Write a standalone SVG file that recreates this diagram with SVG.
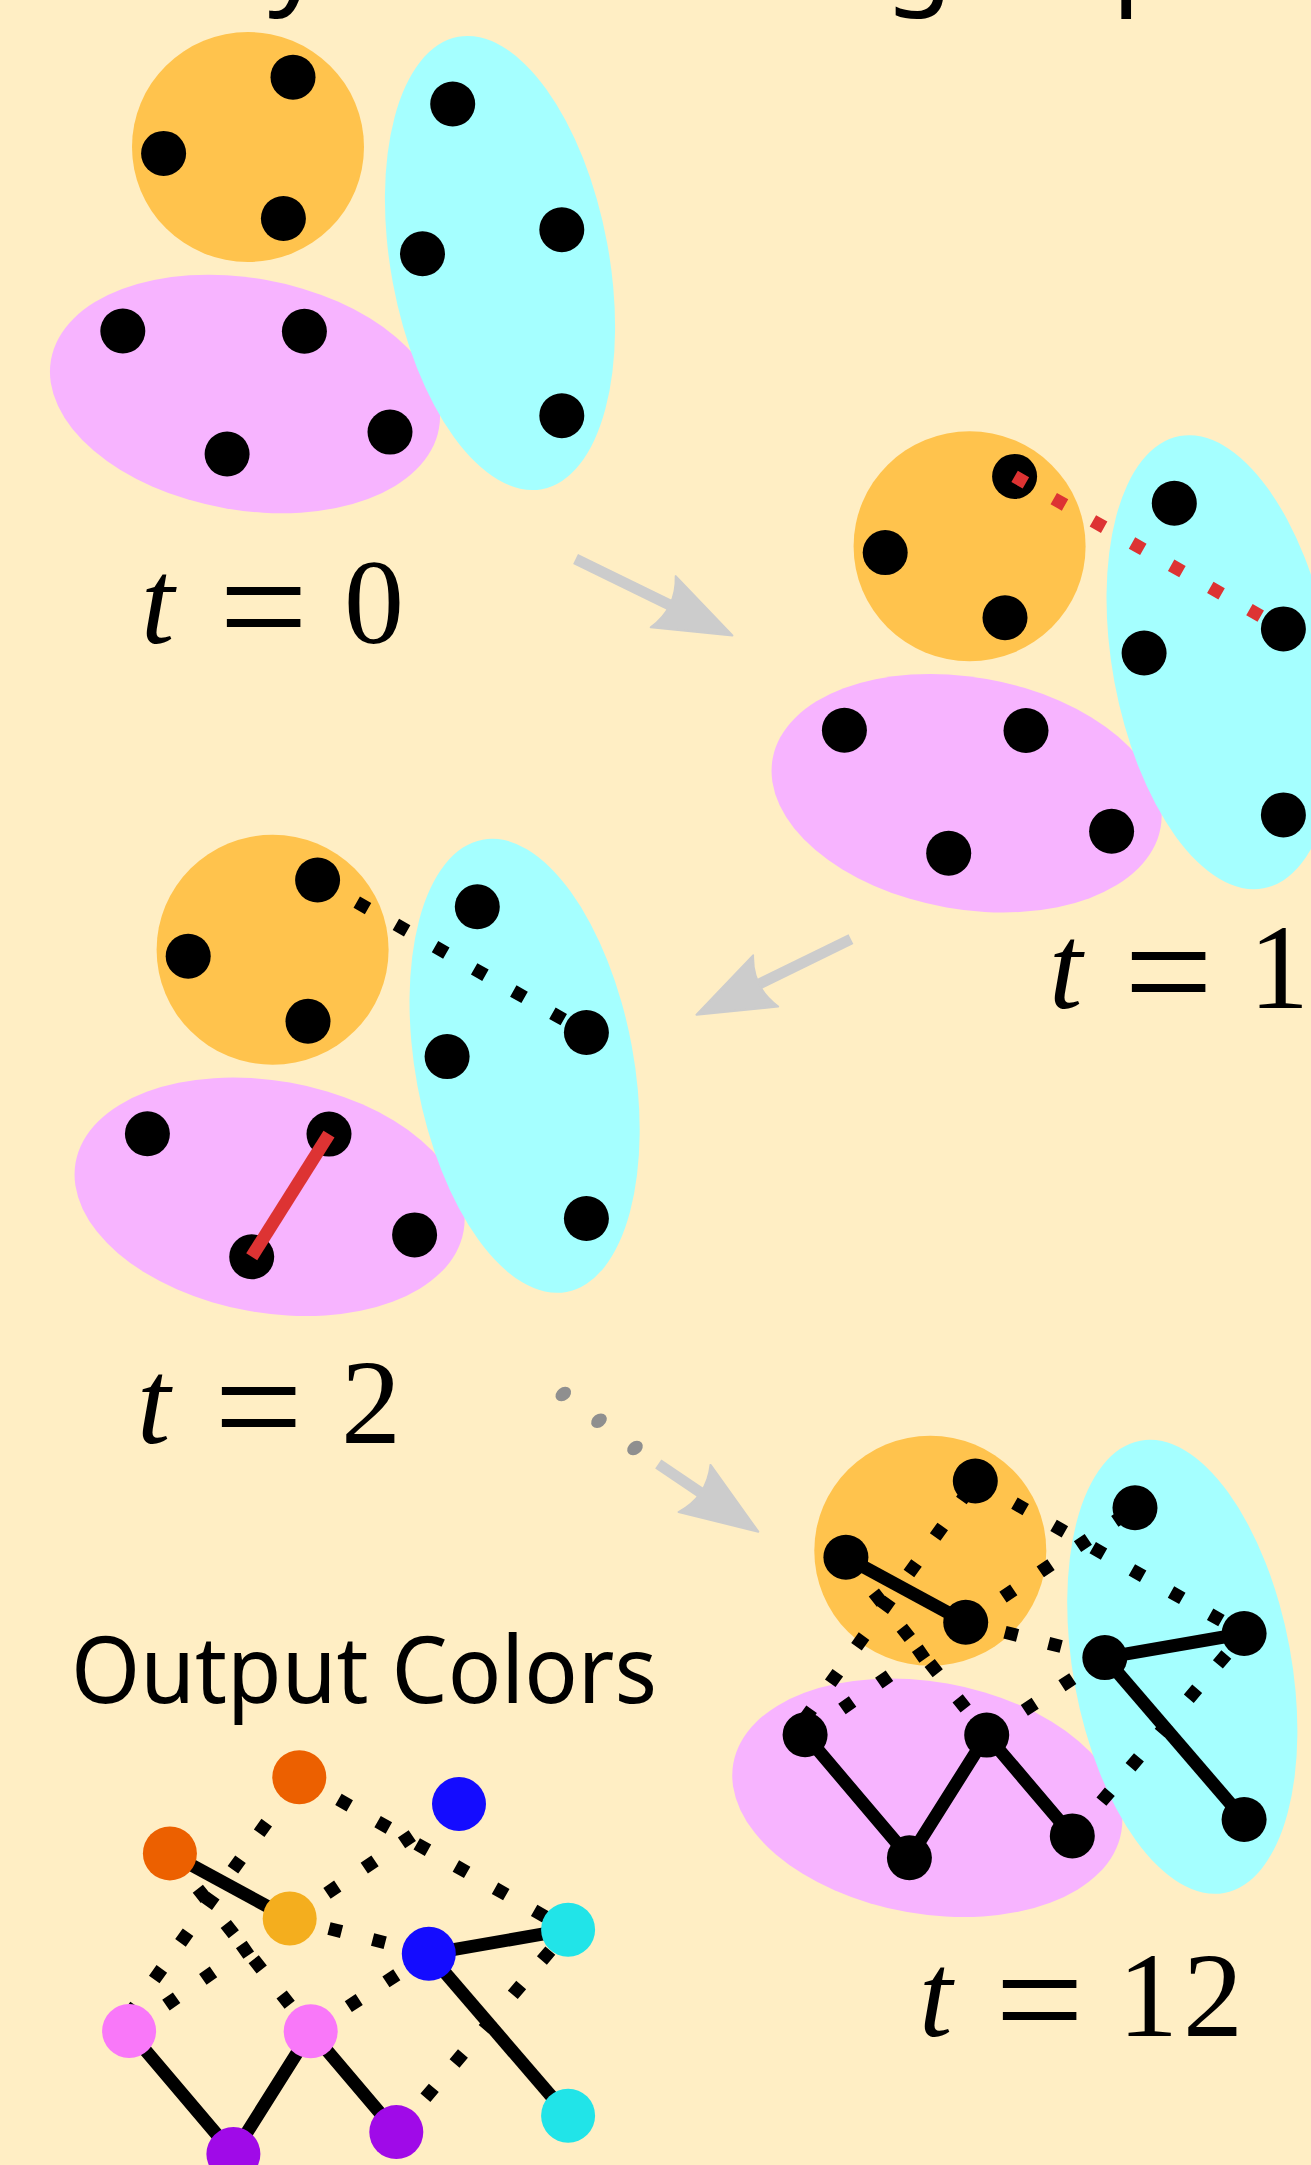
<svg xmlns="http://www.w3.org/2000/svg" width="1311" height="2165" viewBox="0 0 1311 2165">
<style>
.bg{fill:#FFEEC4}
.pink{fill:#F7B4FF}
.cyan{fill:#A5FFFF}
.orange{fill:#FFC34D}
.dot{fill:#000}
.dash{fill:none;stroke:#000;stroke-width:13;stroke-dasharray:13 32}
.dashred{fill:none;stroke:#DD3333;stroke-width:13;stroke-dasharray:13 32}
.solid{fill:none;stroke:#000;stroke-width:13}
.solidred{fill:none;stroke:#DD3333;stroke-width:13}
.shaft{fill:none;stroke:#CCCCCC;stroke-width:11}
.head{fill:#CCCCCC;stroke:#CCCCCC;stroke-width:2;stroke-linejoin:round}
.ell{fill:#8F8F8F}
.lbl{font-family:"Liberation Serif",serif;font-size:120px;fill:#000}
.sans{font-family:"Noto Sans","Open Sans",sans-serif;fill:#000}
.c-dorange{fill:#EC6000}
.c-gold{fill:#F4AE1E}
.c-blue{fill:#140CFF}
.c-cyan{fill:#21E4E8}
.c-pink{fill:#F978F9}
.c-purple{fill:#A00AE8}
</style>
<rect class="bg" x="0" y="0" width="1311" height="2165"/>

<!-- cropped title: only descenders visible -->
<g id="title">
<text class="sans" font-size="110" y="-7"><tspan x="268">y</tspan><tspan x="885">g</tspan><tspan x="1112">p</tspan></text>
</g>

<!-- Panel t = 0 -->
<g id="panel-t0">
<ellipse class="pink" cx="245" cy="394" rx="197" ry="116" transform="rotate(10 245 394)"/>
<ellipse class="cyan" cx="500" cy="263" rx="109" ry="230" transform="rotate(-10.5 500 263)"/>
<ellipse class="orange" cx="248" cy="147" rx="116" ry="115"/>
<g id="t0-O1"><circle class="dot" cx="293" cy="77.2" r="22.5"/></g>
<g id="t0-O2"><circle class="dot" cx="163.6" cy="153.4" r="22.5"/></g>
<g id="t0-O3"><circle class="dot" cx="283.4" cy="218.5" r="22.5"/></g>
<g id="t0-C1"><circle class="dot" cx="452.7" cy="104" r="22.5"/></g>
<g id="t0-C2"><circle class="dot" cx="561.8" cy="229.7" r="22.5"/></g>
<g id="t0-C3"><circle class="dot" cx="422.5" cy="253.8" r="22.5"/></g>
<g id="t0-C4"><circle class="dot" cx="561.8" cy="415.7" r="22.5"/></g>
<g id="t0-P1"><circle class="dot" cx="122.8" cy="331" r="22.5"/></g>
<g id="t0-P2"><circle class="dot" cx="304.4" cy="331.3" r="22.5"/></g>
<g id="t0-P3"><circle class="dot" cx="390" cy="432.1" r="22.5"/></g>
<g id="t0-P4"><circle class="dot" cx="227.1" cy="454" r="22.5"/></g>
</g>
<text class="lbl" y="642.5"><tspan x="141" font-style="italic">t</tspan><tspan x="219" font-size="158" dy="17">=</tspan><tspan x="344" dy="-17">0</tspan></text>

<!-- Panel t = 1 -->
<g id="panel-t1" transform="translate(721.6 399.2)">
<ellipse class="pink" cx="245" cy="394" rx="197" ry="116" transform="rotate(10 245 394)"/>
<ellipse class="cyan" cx="500" cy="263" rx="109" ry="230" transform="rotate(-10.5 500 263)"/>
<ellipse class="orange" cx="248" cy="147" rx="116" ry="115"/>
<g id="t1-O1"><circle class="dot" cx="293" cy="77.2" r="22.5"/></g>
<g id="t1-O2"><circle class="dot" cx="163.6" cy="153.4" r="22.5"/></g>
<g id="t1-O3"><circle class="dot" cx="283.4" cy="218.5" r="22.5"/></g>
<g id="t1-C1"><circle class="dot" cx="452.7" cy="104" r="22.5"/></g>
<g id="t1-C2"><circle class="dot" cx="561.8" cy="229.7" r="22.5"/></g>
<g id="t1-C3"><circle class="dot" cx="422.5" cy="253.8" r="22.5"/></g>
<g id="t1-C4"><circle class="dot" cx="561.8" cy="415.7" r="22.5"/></g>
<g id="t1-P1"><circle class="dot" cx="122.8" cy="331" r="22.5"/></g>
<g id="t1-P2"><circle class="dot" cx="304.4" cy="331.3" r="22.5"/></g>
<g id="t1-P3"><circle class="dot" cx="390" cy="432.1" r="22.5"/></g>
<g id="t1-P4"><circle class="dot" cx="227.1" cy="454" r="22.5"/></g>
<g id="t1-edges">
<path class="dashred" d="M293,77.2 L561.8,229.7"/>
</g>
</g>
<text class="lbl" y="1008"><tspan x="1049" font-style="italic">t</tspan><tspan x="1124" font-size="158" dy="17">=</tspan><tspan x="1249" dy="-17">1</tspan></text>

<!-- Panel t = 2 -->
<g id="panel-t2" transform="translate(24.6 802.8)">
<ellipse class="pink" cx="245" cy="394" rx="197" ry="116" transform="rotate(10 245 394)"/>
<ellipse class="cyan" cx="500" cy="263" rx="109" ry="230" transform="rotate(-10.5 500 263)"/>
<ellipse class="orange" cx="248" cy="147" rx="116" ry="115"/>
<g id="t2-O1"><circle class="dot" cx="293" cy="77.2" r="22.5"/></g>
<g id="t2-O2"><circle class="dot" cx="163.6" cy="153.4" r="22.5"/></g>
<g id="t2-O3"><circle class="dot" cx="283.4" cy="218.5" r="22.5"/></g>
<g id="t2-C1"><circle class="dot" cx="452.7" cy="104" r="22.5"/></g>
<g id="t2-C2"><circle class="dot" cx="561.8" cy="229.7" r="22.5"/></g>
<g id="t2-C3"><circle class="dot" cx="422.5" cy="253.8" r="22.5"/></g>
<g id="t2-C4"><circle class="dot" cx="561.8" cy="415.7" r="22.5"/></g>
<g id="t2-P1"><circle class="dot" cx="122.8" cy="331" r="22.5"/></g>
<g id="t2-P2"><circle class="dot" cx="304.4" cy="331.3" r="22.5"/></g>
<g id="t2-P3"><circle class="dot" cx="390" cy="432.1" r="22.5"/></g>
<g id="t2-P4"><circle class="dot" cx="227.1" cy="454" r="22.5"/></g>
<g id="t2-edges">
<path class="dash" d="M293,77.2 L561.8,229.7"/>
<path class="solidred" d="M304.4,331.3 L227.1,454"/>
</g>
</g>
<text class="lbl" y="1443"><tspan x="137" font-style="italic">t</tspan><tspan x="214" font-size="158" dy="17">=</tspan><tspan x="341" dy="-17">2</tspan></text>

<!-- Panel t = 12 -->
<g id="panel-t12" transform="translate(682.3 1403.8)">
<ellipse class="pink" cx="245" cy="394" rx="197" ry="116" transform="rotate(10 245 394)"/>
<ellipse class="cyan" cx="500" cy="263" rx="109" ry="230" transform="rotate(-10.5 500 263)"/>
<ellipse class="orange" cx="248" cy="147" rx="116" ry="115"/>
<g id="t12-edges">
<path class="solid" d="M163.6,153.4 L283.4,218.5"/>
<path class="solid" d="M422.5,253.8 L561.8,229.7"/>
<path class="solid" d="M422.5,253.8 L561.8,415.7"/>
<path class="solid" d="M122.8,331 L227.1,454 L304.4,331.3 L390,432.1"/>
<path class="dash" d="M293,77.2 L561.8,229.7"/>
<path class="dash" d="M283.4,218.5 L452.7,104"/>
<path class="dash" d="M422.5,253.8 L283.4,218.5"/>
<path class="dash" d="M163.6,153.4 L304.4,331.3"/>
<path class="dash" d="M304.4,331.3 L422.5,253.8"/>
<path class="dash" d="M122.8,331 L283.4,218.5"/>
<path class="dash" d="M390,432.1 L561.8,229.7"/>
<path class="dash" stroke-dashoffset="-10.9" d="M293,77.2 L111,331"/>
</g>
<g id="t12-O1"><circle class="dot" cx="293" cy="77.2" r="22.5"/></g>
<g id="t12-O2"><circle class="dot" cx="163.6" cy="153.4" r="22.5"/></g>
<g id="t12-O3"><circle class="dot" cx="283.4" cy="218.5" r="22.5"/></g>
<g id="t12-C1"><circle class="dot" cx="452.7" cy="104" r="22.5"/></g>
<g id="t12-C2"><circle class="dot" cx="561.8" cy="229.7" r="22.5"/></g>
<g id="t12-C3"><circle class="dot" cx="422.5" cy="253.8" r="22.5"/></g>
<g id="t12-C4"><circle class="dot" cx="561.8" cy="415.7" r="22.5"/></g>
<g id="t12-P1"><circle class="dot" cx="122.8" cy="331" r="22.5"/></g>
<g id="t12-P2"><circle class="dot" cx="304.4" cy="331.3" r="22.5"/></g>
<g id="t12-P3"><circle class="dot" cx="390" cy="432.1" r="22.5"/></g>
<g id="t12-P4"><circle class="dot" cx="227.1" cy="454" r="22.5"/></g>
</g>
<text class="lbl" y="2035.5"><tspan x="919" font-style="italic">t</tspan><tspan x="995" font-size="158" dy="17">=</tspan><tspan x="1118" dy="-17">1</tspan><tspan x="1183">2</tspan></text>

<!-- Transition arrows -->
<g id="connectors">
<g id="arrow-0-1" transform="translate(732.4 635.5) rotate(26)">
<path class="shaft" d="M-174.5,0 L-64,0"/>
<path class="head" d="M0,0 L-77,-28.5 Q-62,0 -77,28.5 Z"/>
</g>
<g id="arrow-1-2" transform="translate(696.5 1014.8) rotate(153.9)">
<path class="shaft" d="M-172,0 L-64,0"/>
<path class="head" d="M0,0 L-77,-28.5 Q-62,0 -77,28.5 Z"/>
</g>
<g id="ellipsis">
<ellipse class="ell" cx="563.3" cy="1394" rx="8.5" ry="6.5" transform="rotate(-38 563.3 1394)"/>
<ellipse class="ell" cx="599" cy="1420.7" rx="8.5" ry="6.5" transform="rotate(-38 599 1420.7)"/>
<ellipse class="ell" cx="635" cy="1448" rx="8.5" ry="6.5" transform="rotate(-38 635 1448)"/>
</g>
<g id="arrow-2-12" transform="translate(758.3 1531.7) rotate(34.1)">
<path class="shaft" d="M-120.8,0 L-64,0"/>
<path class="head" d="M0,0 L-77,-28.5 Q-62,0 -77,28.5 Z"/>
</g>
</g>

<!-- Output colors -->
<text class="sans" x="71" y="1703" font-size="94" textLength="586" lengthAdjust="spacingAndGlyphs">Output Colors</text>
<g id="output" transform="translate(6.3 1700)">
<g id="out-edges">
<path class="solid" d="M163.6,153.4 L283.4,218.5"/>
<path class="solid" d="M422.5,253.8 L561.8,229.7"/>
<path class="solid" d="M422.5,253.8 L561.8,415.7"/>
<path class="solid" d="M122.8,331 L227.1,454 L304.4,331.3 L390,432.1"/>
<path class="dash" d="M293,77.2 L561.8,229.7"/>
<path class="dash" d="M283.4,218.5 L452.7,104"/>
<path class="dash" d="M422.5,253.8 L283.4,218.5"/>
<path class="dash" d="M163.6,153.4 L304.4,331.3"/>
<path class="dash" d="M304.4,331.3 L422.5,253.8"/>
<path class="dash" d="M122.8,331 L283.4,218.5"/>
<path class="dash" d="M390,432.1 L561.8,229.7"/>
<path class="dash" stroke-dashoffset="-10.9" d="M293,77.2 L111,331"/>
</g>
<g id="out-O1"><circle class="c-dorange" cx="293" cy="77.2" r="27"/></g>
<g id="out-O2"><circle class="c-dorange" cx="163.6" cy="153.4" r="27"/></g>
<g id="out-O3"><circle class="c-gold" cx="283.4" cy="218.5" r="27"/></g>
<g id="out-C1"><circle class="c-blue" cx="452.7" cy="104" r="27"/></g>
<g id="out-C2"><circle class="c-cyan" cx="561.8" cy="229.7" r="27"/></g>
<g id="out-C3"><circle class="c-blue" cx="422.5" cy="253.8" r="27"/></g>
<g id="out-C4"><circle class="c-cyan" cx="561.8" cy="415.7" r="27"/></g>
<g id="out-P1"><circle class="c-pink" cx="122.8" cy="331" r="27"/></g>
<g id="out-P2"><circle class="c-pink" cx="304.4" cy="331.3" r="27"/></g>
<g id="out-P3"><circle class="c-purple" cx="390" cy="432.1" r="27"/></g>
<g id="out-P4"><circle class="c-purple" cx="227.1" cy="454" r="27"/></g>
</g>
</svg>
